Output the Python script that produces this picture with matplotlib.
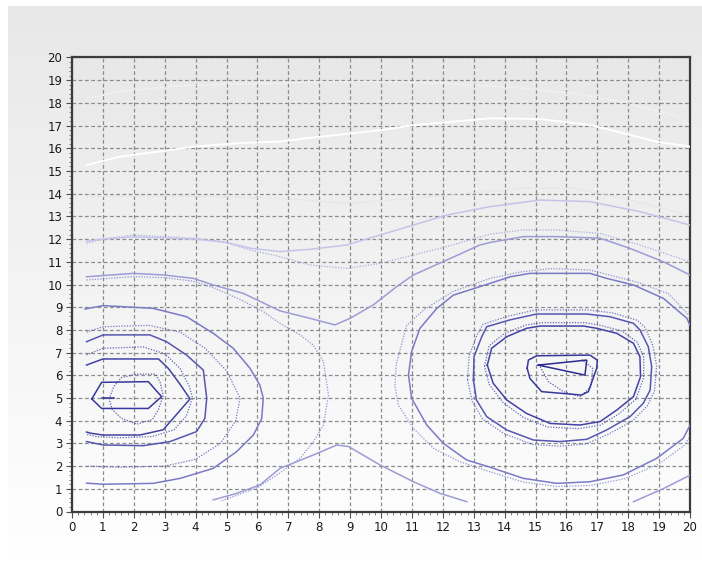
import numpy as np
import matplotlib
matplotlib.use("Agg")
import matplotlib.pyplot as plt
from matplotlib.colors import LinearSegmentedColormap

# ---- contour lines (x, y in data units) ----
# level 0 : innermost marks of both peaks
peak_tick_x = [0.98, 1.35]
peak_tick_y = [5.0, 5.0]
tri_x = [15.09, 16.66, 16.60, 15.09]
tri_y = [6.45, 6.67, 6.01, 6.45]

# level 1
l1_left_x = [0.64, 0.96, 2.47, 2.90, 2.47, 0.96, 0.64]
l1_left_y = [4.96, 5.69, 5.72, 5.06, 4.54, 4.54, 4.96]
l1_right_x = [14.73, 14.77, 15.04, 16.76, 17.00, 16.98, 16.71, 16.49, 15.20, 14.82, 14.73]
l1_right_y = [6.31, 6.67, 6.86, 6.89, 6.67, 6.31, 5.28, 5.13, 5.28, 5.86, 6.31]

# level 2
l2_left_x = [0.47, 1.00, 2.80, 3.12, 3.50, 3.82, 3.40, 2.95, 2.20, 1.00, 0.60, 0.47]
l2_left_y = [6.45, 6.72, 6.72, 6.30, 5.60, 4.96, 4.30, 3.60, 3.37, 3.37, 3.45, 3.50]
l2_right_x = [13.44, 13.58, 14.07, 14.71, 15.15, 16.55, 16.98, 17.63, 18.17, 18.38, 18.40,
              18.17, 17.63, 17.09, 16.44, 15.47, 14.71, 14.07, 13.63, 13.44]
l2_right_y = [6.45, 7.19, 7.70, 8.07, 8.17, 8.17, 8.07, 7.85, 7.41, 6.82, 5.94,
              5.06, 4.47, 3.96, 3.81, 3.88, 4.32, 4.91, 5.65, 6.45]

# level 3
l3_left_x = [0.47, 1.01, 2.52, 3.06, 3.71, 4.25, 4.36, 4.30, 4.03, 3.17, 2.31, 1.01, 0.47]
l3_left_y = [7.48, 7.78, 7.78, 7.48, 6.89, 6.23, 4.99, 4.10, 3.52, 3.08, 2.90, 2.93, 3.08]
l3_right_x = [12.99, 13.01, 13.26, 13.42, 14.17, 15.04, 16.66, 17.41, 18.17, 18.38, 18.65, 18.76,
              18.71, 18.49, 18.06, 17.30, 16.66, 15.79, 14.93, 14.07, 13.42, 13.09, 12.99]
l3_right_y = [5.79, 6.82, 7.70, 8.14, 8.44, 8.70, 8.70, 8.58, 8.29, 8.00, 7.26, 6.38,
              5.35, 4.77, 4.18, 3.59, 3.18, 3.08, 3.15, 3.59, 4.18, 4.91, 5.79]

# level 4
l4_left_x = [0.42, 1.01, 2.63, 3.71, 4.57, 5.22, 5.76, 6.08, 6.19, 6.14, 5.87, 5.33, 4.57,
             3.50, 2.63, 1.01, 0.47]
l4_left_y = [8.92, 9.07, 8.95, 8.58, 7.85, 7.19, 6.31, 5.57, 4.99, 4.10, 3.37, 2.64, 1.90,
             1.46, 1.24, 1.20, 1.25]
l4_right_x = [20.0, 19.9, 19.14, 18.17, 17.3, 16.76, 16.12, 14.82, 14.18, 13.53, 12.34, 11.8,
              11.26, 10.99, 10.89, 10.99, 11.48, 12.02, 12.77, 13.53, 14.61, 15.69, 16.76,
              17.84, 18.92, 19.78, 20.0]
l4_right_y = [8.2, 8.51, 9.39, 9.98, 10.27, 10.49, 10.49, 10.49, 10.34, 10.05, 9.53, 8.94,
              8.07, 7.04, 6.02, 4.99, 3.81, 3.0, 2.27, 1.95, 1.46, 1.24, 1.31,
              1.61, 2.34, 3.22, 3.8]

# level 5 (saddle level, wraps both peaks)
l5_top_x = [0.47, 1.98, 2.96, 3.93, 4.57, 5.54, 6.73, 7.70, 8.51, 9.00, 9.75, 10.50, 11.05,
            12.13, 13.20, 13.53, 14.61, 15.69, 17.09, 18.06, 19.14, 20.0]
l5_top_y = [10.34, 10.49, 10.42, 10.27, 9.98, 9.61, 8.84, 8.51, 8.22, 8.51, 9.10, 9.90, 10.42,
            11.08, 11.74, 11.85, 12.11, 12.11, 12.04, 11.59, 11.00, 10.42]
l5_bot_x = [4.57, 5.33, 6.08, 6.73, 7.81, 8.57, 8.95, 9.97, 11.05, 11.91, 12.78]
l5_bot_y = [0.51, 0.80, 1.17, 1.90, 2.49, 2.93, 2.86, 2.05, 1.31, 0.80, 0.43]
l5_corner_x = [18.17, 19.14, 20.0]
l5_corner_y = [0.43, 1.01, 1.60]

# level 6
l6_x = [0.47, 1.0, 2.0, 3.0, 4.0, 5.0, 5.76, 6.73, 7.7, 8.89, 9.97, 11.05, 12.13, 13.53,
        15.15, 16.76, 18.38, 20.0]
l6_y = [11.9, 12.0, 12.1, 12.05, 12.0, 11.85, 11.6, 11.45, 11.55, 11.74, 12.18, 12.62, 13.06,
        13.43, 13.72, 13.65, 13.21, 12.62]

# level 7 (white)
l7_x = [0.47, 1.55, 3.17, 3.93, 5.33, 6.73, 8.03, 10.0, 11.05, 13.53, 15.15, 16.76, 18.06,
        18.92, 20.0]
l7_y = [15.26, 15.63, 15.92, 16.07, 16.22, 16.30, 16.51, 16.80, 17.02, 17.32, 17.29, 17.03,
        16.59, 16.29, 16.07]

# ---- dotted companion contours ----
d1_left_x = [1.2, 1.35, 1.6, 2.1, 2.7, 2.85, 2.95, 2.8, 2.6, 2.1, 1.6, 1.3, 1.2]
d1_left_y = [4.95, 5.5, 5.9, 6.05, 6.05, 5.7, 5.1, 4.5, 4.05, 3.85, 4.1, 4.5, 4.95]
d1_right_x = [15.15, 15.42, 15.9, 16.44, 16.8, 16.85, 16.5]
d1_right_y = [6.38, 5.72, 5.28, 5.06, 5.5, 6.3, 6.7]
d2_left_x = [0.47, 1.0, 2.3, 3.0, 3.5, 3.8, 3.9, 3.7, 3.3, 2.6, 1.5, 0.8, 0.47]
d2_left_y = [6.9, 7.19, 7.25, 6.95, 6.3, 5.5, 5.0, 4.2, 3.6, 3.3, 3.25, 3.3, 3.4]
d2_right_x = [13.35, 13.5, 14.0, 14.7, 15.2, 16.6, 17.1, 17.8, 18.3, 18.5, 18.5,
              18.25, 17.7, 17.1, 16.4, 15.4, 14.6, 13.95, 13.5, 13.35]
d2_right_y = [6.4, 7.3, 7.85, 8.22, 8.32, 8.32, 8.2, 7.95, 7.45, 6.8, 5.9,
              4.95, 4.3, 3.8, 3.65, 3.72, 4.15, 4.8, 5.6, 6.4]
d3_left_x = [0.47, 1.0, 2.5, 3.5, 4.3, 5.0, 5.44, 5.3, 4.8, 4.0, 3.0, 1.5, 0.47]
d3_left_y = [7.9, 8.14, 8.2, 7.9, 7.2, 6.2, 5.0, 4.0, 3.0, 2.3, 2.0, 1.95, 2.0]
d3_right_x = [12.8, 12.85, 13.1, 13.3, 14.1, 15.0, 16.7, 17.5, 18.3, 18.55, 18.8, 18.92,
              18.85, 18.62, 18.15, 17.35, 16.65, 15.8, 14.9, 14.0, 13.3, 12.95, 12.8]
d3_right_y = [5.8, 6.85, 7.75, 8.25, 8.6, 8.88, 8.88, 8.75, 8.42, 8.1, 7.3, 6.4,
              5.3, 4.65, 4.0, 3.4, 2.98, 2.88, 2.95, 3.42, 4.05, 4.85, 5.8]
d4_left_x = [0.47, 2.0, 3.0, 3.9, 4.6, 5.5, 6.2, 6.73, 7.38, 7.81, 8.14, 8.30, 8.14, 7.81,
             7.38, 6.73, 6.0, 5.3, 4.8]
d4_left_y = [10.2, 10.35, 10.3, 10.15, 9.85, 9.3, 8.8, 8.29, 7.78, 7.33, 6.6, 5.13, 3.81, 3.07,
             2.34, 1.7, 1.05, 0.7, 0.45]
d4_right_x = [20.0, 19.3, 18.3, 17.3, 16.76, 15.5, 14.5, 13.53, 12.34, 11.4, 10.83, 10.5,
              10.45, 10.56, 11.05, 11.7, 12.56, 13.53, 14.6, 15.7, 16.8, 17.9, 19.0, 19.8, 20.0]
d4_right_y = [8.6, 9.6, 10.1, 10.45, 10.64, 10.7, 10.55, 10.27, 9.7, 8.9, 8.2, 6.53,
              5.57, 4.69, 3.66, 2.78, 2.19, 1.75, 1.3, 1.1, 1.15, 1.45, 2.1, 2.9, 3.3]
d5_x = [0.47, 1.0, 1.98, 2.96, 3.93, 4.9, 5.76, 6.73, 7.7, 8.89, 9.97, 11.05, 12.13, 13.53,
        14.61, 15.69, 17.09, 18.38, 20.0]
d5_y = [11.81, 12.0, 12.18, 12.11, 12.04, 11.89, 11.52, 11.23, 10.86, 10.71, 10.93, 11.3,
        11.67, 12.22, 12.4, 12.4, 12.25, 11.74, 11.0]
d6_x = [0.47, 3.0, 6.73, 8.89, 11.05, 13.53, 14.61, 16.23, 17.84, 20.0]
d6_y = [13.87, 13.9, 13.8, 13.57, 13.8, 14.1, 14.24, 14.24, 13.8, 13.06]
d7_x = [0.47, 1.55, 3.17, 4.79, 6.73, 8.0, 10.0, 12.0, 13.53, 14.61, 16.23, 17.84, 19.46, 20.0]
d7_y = [18.2, 18.5, 18.72, 18.82, 18.86, 18.94, 18.95, 18.85, 18.75, 18.64, 18.42, 18.05,
        17.47, 17.03]

ticks = list(range(0, 21))

# colours per level, dark (inner) -> white (outer)
c0, c1, c2, c3 = "#2c2c94", "#38389c", "#4242a4", "#5656b2"
c4, c5, c6, c6d, c7 = "#7a7ac6", "#9c9cd6", "#c4c4ea", "#d8d8f2", "#ffffff"

W, H = 702, 561
fig = plt.figure(figsize=(W / 100, H / 100), dpi=100)

# figure background: grey at top fading to white
bg = fig.add_axes([8 / W, 0, 1 - 8 / W, 1 - 6 / H], zorder=-10)
bg.imshow(np.linspace(0, 1, 256)[:, None], aspect="auto", extent=[0, 1, 0, 1],
          cmap=LinearSegmentedColormap.from_list("bgf", ["#e8e8e8", "#ffffff"]))
bg.axis("off")

ax = fig.add_axes([72 / W, (H - 511.5) / H, 618 / W, 454 / H])
ax.imshow(np.linspace(0, 1, 256)[:, None], aspect="auto", extent=[0, 20, 0, 20], zorder=0,
          cmap=LinearSegmentedColormap.from_list("bga", ["#e8e8e8", "#fdfdfd"]))

solid = dict(lw=1.1, solid_joinstyle="miter", zorder=3)
dot = dict(lw=0.9, ls=(0, (1, 1.2)), alpha=0.8, zorder=3)

# dotted set first, solid set on top
ax.plot(d1_left_x, d1_left_y, color=c1, **dot)
ax.plot(d1_right_x, d1_right_y, color=c1, **dot)
ax.plot(d2_left_x, d2_left_y, color=c2, **dot)
ax.plot(d2_right_x, d2_right_y, color=c2, **dot)
ax.plot(d3_left_x, d3_left_y, color=c3, **dot)
ax.plot(d3_right_x, d3_right_y, color=c3, **dot)
ax.plot(d4_left_x, d4_left_y, color=c4, **dot)
ax.plot(d4_right_x, d4_right_y, color=c4, **dot)
ax.plot(d5_x, d5_y, color=c5, **dot)
ax.plot(d6_x, d6_y, color=c6d, **dot)
ax.plot(d7_x, d7_y, color=c7, **dot)

ax.plot(peak_tick_x, peak_tick_y, color=c0, **solid)
ax.plot(tri_x, tri_y, color=c0, **solid)
ax.plot(l1_left_x, l1_left_y, color=c1, **solid)
ax.plot(l1_right_x, l1_right_y, color=c1, **solid)
ax.plot(l2_left_x, l2_left_y, color=c2, **solid)
ax.plot(l2_right_x, l2_right_y, color=c2, **solid)
ax.plot(l3_left_x, l3_left_y, color=c3, **solid)
ax.plot(l3_right_x, l3_right_y, color=c3, **solid)
ax.plot(l4_left_x, l4_left_y, color=c4, **solid)
ax.plot(l4_right_x, l4_right_y, color=c4, **solid)
ax.plot(l5_top_x, l5_top_y, color=c5, **solid)
ax.plot(l5_bot_x, l5_bot_y, color=c5, **solid)
ax.plot(l5_corner_x, l5_corner_y, color=c5, **solid)
ax.plot(l6_x, l6_y, color=c6, **solid)
ax.plot(l7_x, l7_y, color=c7, lw=1.4, zorder=3)

ax.set_xlim(0, 20)
ax.set_ylim(0, 20)
ax.set_xticks(ticks)
ax.set_yticks(ticks)
ax.set_xticks(np.arange(0, 20.01, 0.2), minor=True)
ax.set_yticks(np.arange(0, 20.01, 0.2), minor=True)
ax.grid(True, which="major", color="#8c8c8c", ls=(0, (3, 2)), lw=0.9, zorder=1)
ax.tick_params(which="major", direction="out", length=4, width=0.8, color="#505050",
               labelsize=8.5, labelcolor="#1a1a1a", pad=3)
ax.tick_params(which="minor", direction="out", length=2, width=0.6, color="#707070")
for s in ax.spines.values():
    s.set_color("#3c3c3c")
    s.set_linewidth(1.6)

fig.savefig("out.png", dpi=100)
